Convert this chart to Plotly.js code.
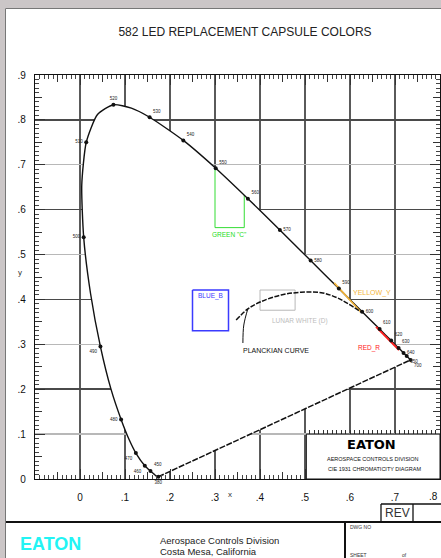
<!DOCTYPE html>
<html><head><meta charset="utf-8">
<script src="https://cdn.plot.ly/plotly-3.0.1.min.js"></script>
<style>html,body{margin:0;padding:0;background:#fff;}#chart{width:441px;height:558px;}</style>
</head><body><div id="chart"></div>
<script>
// ---------- data ----------
const TITLE = '582 LED REPLACEMENT CAPSULE COLORS';
const X_TICKS = [0, 0.1, 0.2, 0.3, 0.4, 0.5, 0.6, 0.7, 0.8];
const X_TICK_TEXT = ['0', '.1', '.2', '.3', '.4', '.5', '.6', '.7', '.8'];
const Y_TICKS = [0, 0.1, 0.2, 0.3, 0.4, 0.5, 0.6, 0.7, 0.8, 0.9];
const Y_TICK_TEXT = ['0', '.1', '.2', '.3', '.4', '.5', '.6', '.7', '.8', '.9'];
const Y_DARK_GRID = [0.2, 0.4, 0.6, 0.8];
const X_MID_TICKS = [-0.05, 0.05, 0.15, 0.25, 0.35, 0.45, 0.55, 0.65, 0.75];
const Y_MID_TICKS = [0.05, 0.15, 0.25, 0.35, 0.45, 0.55, 0.65, 0.75, 0.85];

// spectral locus (wavelength nm, x, y)
const LOCUS_NM = [380, 390, 400, 410, 420, 430, 440, 450, 460, 470, 475, 480, 485, 490, 495, 500, 505, 510, 515, 520, 525, 530, 540, 550, 560, 570, 580, 590, 600, 610, 620, 630, 640, 650, 700];
const LOCUS_X = [0.1741, 0.1738, 0.1733, 0.1726, 0.1714, 0.1689, 0.1644, 0.1566, 0.1440, 0.1241, 0.1096, 0.0913, 0.0687, 0.0454, 0.0235, 0.0082, 0.0039, 0.0139, 0.0389, 0.0743, 0.1142, 0.1547, 0.2296, 0.3016, 0.3731, 0.4441, 0.5125, 0.5752, 0.6270, 0.6658, 0.6915, 0.7079, 0.7190, 0.7260, 0.7347];
const LOCUS_Y = [0.0050, 0.0049, 0.0048, 0.0048, 0.0051, 0.0069, 0.0109, 0.0177, 0.0297, 0.0578, 0.0868, 0.1327, 0.2007, 0.2950, 0.4127, 0.5384, 0.6548, 0.7502, 0.8120, 0.8338, 0.8262, 0.8059, 0.7543, 0.6923, 0.6245, 0.5547, 0.4866, 0.4242, 0.3725, 0.3340, 0.3083, 0.2920, 0.2809, 0.2740, 0.2653];

const LABELED_NM = [380, 450, 460, 470, 480, 490, 500, 510, 520, 530, 540, 550, 560, 570, 580, 590, 600, 610, 620, 630, 640, 650, 700];
const LABEL_POS = ['bottom center', 'top right', 'bottom left', 'bottom left', 'middle left', 'bottom left', 'middle left', 'middle left', 'top center', 'top right', 'top right', 'top right', 'top right', 'middle right', 'middle right', 'top right', 'middle right', 'top right', 'top right', 'top right', 'middle right', 'bottom right', 'bottom right'];

// Planckian curve
const PLANCK_X = [0.347, 0.373, 0.402, 0.447, 0.491, 0.536, 0.573, 0.624];
const PLANCK_Y = [0.354, 0.379, 0.395, 0.410, 0.416, 0.415, 0.403, 0.372];
const LEADER_X = [0.362, 0.364, 0.373];
const LEADER_Y = [0.303, 0.343, 0.379];

// colour regions
const GREEN_X = [0.300, 0.300, 0.365, 0.365];
const GREEN_Y = [0.695, 0.560, 0.560, 0.632];
const BLUE_X = [0.250, 0.330, 0.330, 0.250, 0.250];
const BLUE_Y = [0.421, 0.421, 0.330, 0.330, 0.421];
const LUNAR_X = [0.400, 0.478, 0.478, 0.400, 0.400];
const LUNAR_Y = [0.421, 0.421, 0.376, 0.376, 0.421];
const YELLOW_X = [0.565, 0.624];
const YELLOW_Y = [0.437, 0.372];
const RED_X = [0.658, 0.709];
const RED_Y = [0.339, 0.287];

// ---------- helpers ----------
const PL = 35, PR = 440, PT = 75, PB = 479;
const px = v => (v - PL) / (PR - PL);
const py = v => (PB - v) / (PB - PT);
const FONT = 'Liberation Sans, Arial, sans-serif';

// ruler ticks along the top of the title box
const BOX_RULER = [];
for (let k = 51; k <= 79; k++) BOX_RULER.push(k / 100);

// last x label sits at the page edge: drawn as an annotation kept inside the page
const lastX = X_TICK_TEXT.length - 1;
const X_AXIS_TEXT = X_TICK_TEXT.map((t, i) => (i === lastX ? '' : t));

const mk = [], mkx = [], mky = [];
LABELED_NM.forEach(nm => { const i = LOCUS_NM.indexOf(nm); mk.push(String(nm)); mkx.push(LOCUS_X[i]); mky.push(LOCUS_Y[i]); });

const last = LOCUS_X.length - 1;
const nolegend = {hoverinfo: 'skip', showlegend: false};
const traces = [
  Object.assign({x: LOCUS_X, y: LOCUS_Y, mode: 'lines', fill: 'toself', fillcolor: '#ffffff', line: {width: 0, shape: 'spline', smoothing: 0.6}}, nolegend),
  Object.assign({x: [null], y: [null], xaxis: 'x2', yaxis: 'y2'}, nolegend),
  Object.assign({x: [null], y: [null], xaxis: 'x', yaxis: 'y3'}, nolegend),
  Object.assign({x: [null], y: [null], xaxis: 'x3', yaxis: 'y'}, nolegend),
  Object.assign({x: [LOCUS_X[0], LOCUS_X[last]], y: [LOCUS_Y[0], LOCUS_Y[last]], mode: 'lines', line: {color: '#111', width: 1.5, dash: '6px,1.5px'}}, nolegend),
  Object.assign({x: GREEN_X, y: GREEN_Y, mode: 'lines', line: {color: '#33dd33', width: 1}}, nolegend),
  Object.assign({x: BLUE_X, y: BLUE_Y, mode: 'lines', line: {color: '#3b3bff', width: 1.5}}, nolegend),
  Object.assign({x: LUNAR_X, y: LUNAR_Y, mode: 'lines', line: {color: '#b8b8b8', width: 1}}, nolegend),
  Object.assign({x: LOCUS_X, y: LOCUS_Y, mode: 'lines', line: {color: '#111', width: 1.4, shape: 'spline', smoothing: 0.6}}, nolegend),
  Object.assign({x: YELLOW_X, y: YELLOW_Y, mode: 'lines', line: {color: '#f4b53a', width: 1.6}}, nolegend),
  Object.assign({x: RED_X, y: RED_Y, mode: 'lines', line: {color: '#ff2020', width: 2}}, nolegend),
  Object.assign({x: PLANCK_X, y: PLANCK_Y, mode: 'lines', line: {color: '#111', width: 1.5, shape: 'spline', dash: '5px,1.5px'}}, nolegend),
  Object.assign({x: LEADER_X, y: LEADER_Y, mode: 'lines', line: {color: '#111', width: 1, shape: 'spline'}}, nolegend),
  Object.assign({x: mkx, y: mky, mode: 'markers+text', text: mk, textposition: LABEL_POS, marker: {color: '#111', size: 4}, textfont: {family: FONT, size: 4.5, color: '#222'}, cliponaxis: false}, nolegend)
];

const baseAxis = {zeroline: false, fixedrange: true, showline: false};
function ann(x, y, text, size, color, opts) {
  return Object.assign({xref: 'paper', yref: 'paper', x: px(x), y: py(y), text: text, showarrow: false, xanchor: 'center', yanchor: 'middle', font: {family: FONT, size: size, color: color}}, opts || {});
}
function dann(x, y, text, size, color, opts) {
  return Object.assign({xref: 'x', yref: 'y', x: x, y: y, text: text, showarrow: false, xanchor: 'center', yanchor: 'middle', font: {family: FONT, size: size, color: color}}, opts || {});
}
function pline(x0, y0, x1, y1, w) {
  return {type: 'line', xref: 'paper', yref: 'paper', x0: px(x0), x1: px(x1), y0: py(y0), y1: py(y1), line: {color: '#111', width: w}, layer: 'above'};
}

const layout = {
  width: 441, height: 558, autosize: false,
  margin: {l: PL, r: 441 - PR, t: PT, b: 558 - PB},
  paper_bgcolor: '#ffffff', plot_bgcolor: '#ffffff',
  showlegend: false,
  title: {text: TITLE, font: {family: FONT, size: 12, color: '#222'}, x: 245 / 441, xanchor: 'center', y: 1 - 32 / 558, yanchor: 'middle', xref: 'container', yref: 'container'},
  xaxis: Object.assign({}, baseAxis, {
    range: [-0.1, 0.8], tickmode: 'array', tickvals: X_TICKS, ticktext: X_AXIS_TEXT,
    showgrid: true, gridcolor: '#5a5a5a', gridwidth: 1.3,
    showline: true, linecolor: '#111', linewidth: 1.2, mirror: 'ticks',
    ticks: 'inside', ticklen: 10, tickcolor: '#333', tickwidth: 1,
    minor: {dtick: 0.01, tick0: 0, ticks: 'inside', ticklen: 4, tickcolor: '#444', tickwidth: 1, showgrid: false},
    tickfont: {family: FONT, size: 10, color: '#111'}, ticklabelstandoff: 9
  }),
  yaxis: Object.assign({}, baseAxis, {
    range: [0, 0.9], tickmode: 'array', tickvals: Y_TICKS, ticktext: Y_TICK_TEXT,
    showgrid: true, gridcolor: '#b8b8b8', gridwidth: 1.3,
    showline: true, linecolor: '#111', linewidth: 1.2, mirror: 'ticks',
    ticks: 'inside', ticklen: 10, tickcolor: '#333', tickwidth: 1,
    minor: {dtick: 0.01, tick0: 0, ticks: 'inside', ticklen: 4, tickcolor: '#444', tickwidth: 1, showgrid: false},
    tickfont: {family: FONT, size: 10, color: '#111'}, ticklabelstandoff: 6
  }),
  xaxis2: Object.assign({}, baseAxis, {
    overlaying: 'x', anchor: 'y', side: 'bottom', range: [-0.1, 0.8], tickmode: 'array', tickvals: X_MID_TICKS,
    showgrid: false, showticklabels: false, ticks: 'inside', ticklen: 7, tickcolor: '#333', mirror: 'ticks'
  }),
  xaxis3: Object.assign({}, baseAxis, {
    overlaying: 'x', anchor: 'free', position: 0.1 / 0.9, side: 'top', range: [-0.1, 0.8], tickmode: 'array', tickvals: BOX_RULER,
    showgrid: false, showticklabels: false, ticks: 'outside', ticklen: 4, tickcolor: '#333'
  }),
  yaxis2: Object.assign({}, baseAxis, {
    overlaying: 'y', anchor: 'x2', side: 'left', range: [0, 0.9], tickmode: 'array', tickvals: Y_MID_TICKS,
    showgrid: false, showticklabels: false, ticks: 'inside', ticklen: 7, tickcolor: '#333', mirror: 'ticks'
  }),
  yaxis3: Object.assign({}, baseAxis, {
    overlaying: 'y', anchor: 'x', side: 'left', range: [0, 0.9], tickmode: 'array', tickvals: Y_DARK_GRID,
    showgrid: true, gridcolor: '#4a4a4a', gridwidth: 1.5, showticklabels: false, ticks: ''
  }),
  annotations: [
    dann(0.333, 0.545, 'GREEN "C"', 6.5, '#22dd22'),
    dann(0.258, 0.408, 'BLUE_B', 6.5, '#3b3bff', {xanchor: 'left'}),
    dann(0.489, 0.352, 'LUNAR WHITE (D)', 6.5, '#bdbdbd'),
    dann(0.649, 0.414, 'YELLOW_Y', 7, '#f4b53a'),
    dann(0.643, 0.292, 'RED_R', 6.5, '#ff2020'),
    dann(0.435, 0.287, 'PLANCKIAN CURVE', 7, '#111'),
    dann(0.647, 0.076, '<b>EATON</b>', 13, '#000', {font: {family: 'DejaVu Sans, sans-serif', size: 13, color: '#000'}}),
    dann(0.652, 0.0445, 'AEROSPACE CONTROLS DIVISION', 5.5, '#111'),
    dann(0.655, 0.0223, 'CIE 1931 CHROMATICITY DIAGRAM', 5.5, '#111'),
    ann(440, 496, X_TICK_TEXT[lastX], 10, '#111', {xanchor: 'right'}),
    ann(230, 494, 'x', 8, '#333'),
    ann(20, 272, 'y', 8, '#333'),
    ann(397, 513, 'REV', 12, '#333'),
    ann(348, 527, 'DWG NO', 5, '#333', {xanchor: 'left'}),
    ann(348, 555, 'SHEET', 5, '#333', {xanchor: 'left'}),
    ann(400, 555, 'of', 5, '#333', {xanchor: 'left'}),
    ann(50, 544, '<b>EATON</b>', 18, '#22f4f4'),
    ann(158, 540, 'Aerospace Controls Division', 9.5, '#222', {xanchor: 'left'}),
    ann(158, 551, 'Costa Mesa, California', 9.5, '#222', {xanchor: 'left'})
  ],
  shapes: [
    {type: 'rect', xref: 'x', yref: 'y', x0: 0.503, x1: 0.8, y0: 0, y1: 0.1, fillcolor: '#ffffff', line: {color: '#111', width: 1}, layer: 'above'},
    {type: 'rect', xref: 'paper', yref: 'paper', x0: px(0), x1: px(441), y0: py(0), y1: py(8), fillcolor: '#cbc6c7', line: {width: 0}, layer: 'above'},
    {type: 'rect', xref: 'paper', yref: 'paper', x0: px(0), x1: px(5), y0: py(0), y1: py(558), fillcolor: '#cbc6c7', line: {width: 0}, layer: 'above'},
    {type: 'line', xref: 'paper', yref: 'paper', x0: px(5.5), x1: px(441), y0: py(8.5), y1: py(8.5), line: {color: '#777', width: 1}, layer: 'above'},
    {type: 'line', xref: 'paper', yref: 'paper', x0: px(5.5), x1: px(5.5), y0: py(8.5), y1: py(558), line: {color: '#777', width: 1}, layer: 'above'},
    pline(6, 522, 441, 522, 2),
    pline(345, 522, 345, 558, 2),
    pline(381, 504, 441, 504, 1.3),
    pline(381, 504, 381, 522, 1.3),
    pline(413, 504, 413, 522, 1.3)
  ]
};

Plotly.newPlot('chart', traces, layout, {displayModeBar: false, staticPlot: true});
</script></body></html>
